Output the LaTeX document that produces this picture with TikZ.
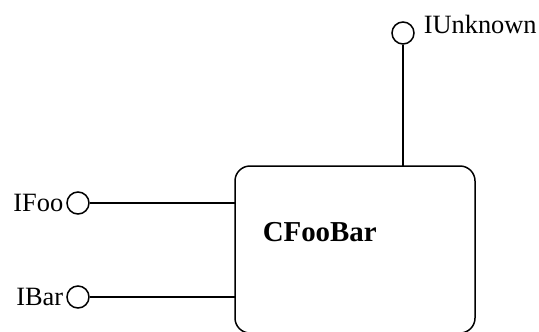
\documentclass[tikz,border=0pt]{standalone}
\usepackage{fontspec}
\setmainfont{Liberation Serif}
\begin{document}
\begin{tikzpicture}[x=1bp,y=-1bp,
  line width=1.5bp,
  lollipop/.style={circle,draw,minimum size=22bp,inner sep=0pt},
  iname/.style={font=\fontsize{26.5}{30}\selectfont,inner sep=0pt},
  classbox/.style={draw,rounded corners=15bp}]
\useasboundingbox (0,0) rectangle (539,331);
\clip (0,0) rectangle (539,331);
% component body (runs past the lower edge)
\draw[classbox] (235,166) rectangle (475,333);
\node[font=\bfseries\fontsize{29}{33}\selectfont,inner sep=0pt,anchor=base west] (cls) at (262,241) {CFooBar};
% exposed interfaces
\node[lollipop] (unk) at (403,33) {};
\node[lollipop] (foo) at (78,203) {};
\node[lollipop] (bar) at (78,297) {};
\coordinate (unkend) at (403,166);
\coordinate (fooend) at (235,203);
\coordinate (barend) at (235,297);
\draw (unk.south) -- (unkend);
\draw (foo.east) -- (fooend);
\draw (bar.east) -- (barend);
% interface names
\node[iname,anchor=base west] (unkl) at (423,33) {IUnknown};
\node[iname,anchor=base east] (fool) at (64,211) {IFoo};
\node[iname,anchor=base east] (barl) at (64,305) {IBar};
\end{tikzpicture}
\end{document}
